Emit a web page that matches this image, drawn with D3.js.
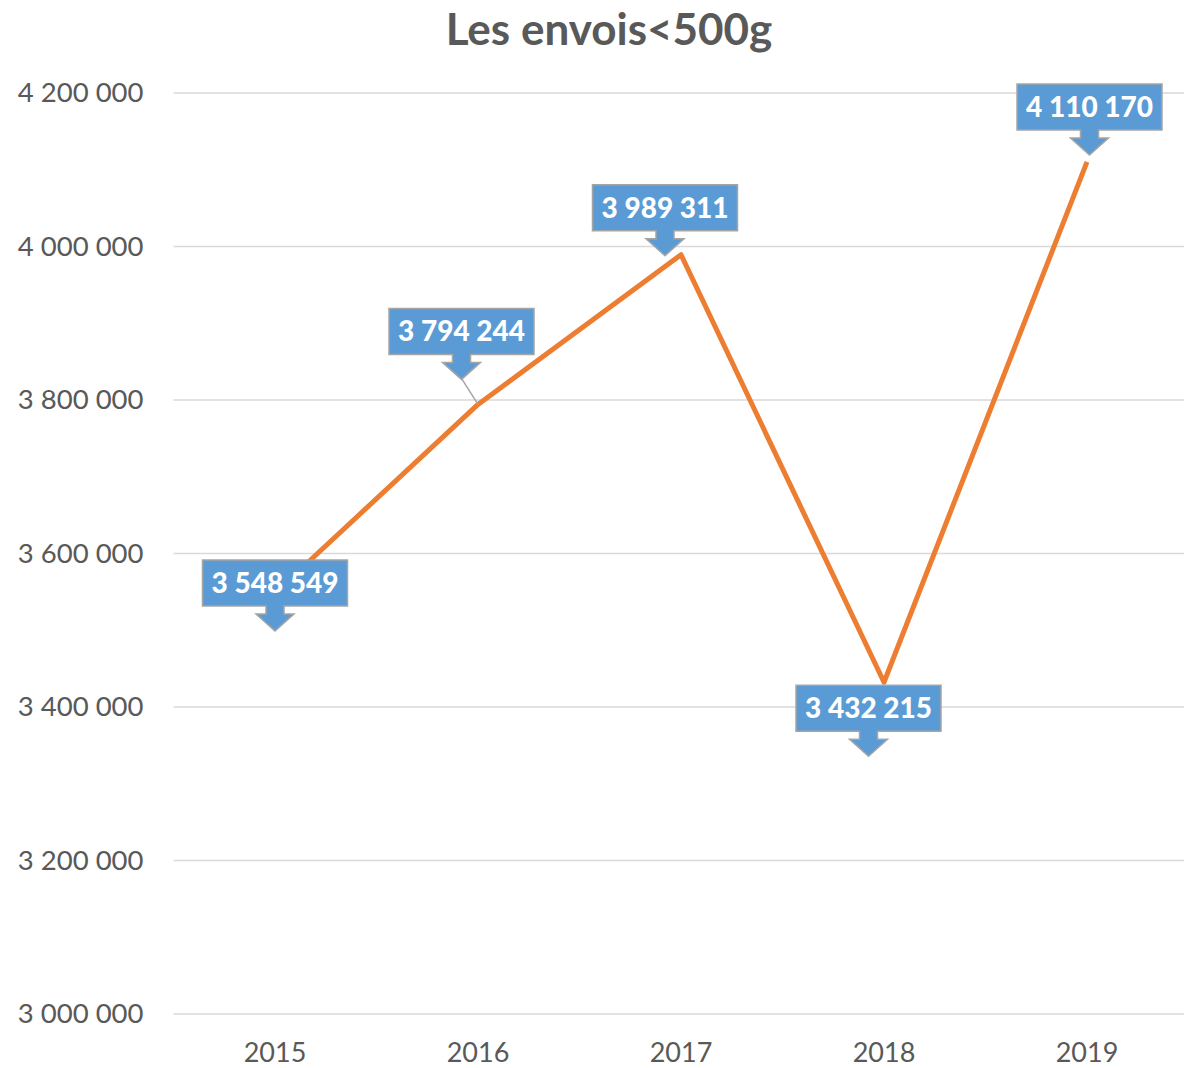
<!DOCTYPE html>
<html>
<head>
<meta charset="utf-8">
<script src="https://cdn.jsdelivr.net/npm/d3@7"></script>
<style>
  body { margin: 0; background: #fff; }
  svg { display: block; font-family: Lato, "Open Sans", sans-serif; }
</style>
</head>
<body>
<div id="chart"></div>
<script>
// DATA
const years = ["2015", "2016", "2017", "2018", "2019"];
const envois = [3548549, 3794244, 3989311, 3432215, 4110170];
const yTicks = [3000000, 3200000, 3400000, 3600000, 3800000, 4000000, 4200000];

// callout placement relative to each point: box centre shift and box top shift
const calloutShift = [
  { dx: 0, dy: -33 },
  { dx: -16.5, dy: -96 },
  { dx: -16, dy: -70 },
  { dx: -15.5, dy: 3 },
  { dx: 2.5, dy: -78 }
];

const width = 1184;
const height = 1068;
const margin = { top: 93, right: 0, bottom: 54, left: 173.5 };

// space as thousands separator
const fmt = (v) => d3.format(",")(v).replace(/,/g, " ");

const svg = d3.select("#chart")
  .append("svg")
  .attr("width", width)
  .attr("height", height);

const x = d3.scaleBand()
  .domain(years)
  .range([margin.left, 1188.5]);

const y = d3.scaleLinear()
  .domain([3000000, 4200000])
  .range([1014, margin.top]);

// TITLE
svg.append("text")
  .attr("x", 609)
  .attr("y", 45)
  .attr("text-anchor", "middle")
  .attr("fill", "#595959")
  .attr("font-size", 44)
  .attr("font-weight", "bold")
  .text("Les envois<500g");

// GRIDLINES
svg.append("g")
    .attr("stroke", "#d9d9d9")
    .attr("stroke-width", 1.5)
  .selectAll()
  .data(yTicks)
  .join("line")
    .attr("x1", margin.left)
    .attr("x2", width)
    .attr("y1", (d) => y(d))
    .attr("y2", (d) => y(d));

// Y AXIS LABELS
const yAxis = svg.append("g")
  .attr("transform", `translate(${margin.left},0)`)
  .call(d3.axisLeft(y).tickValues(yTicks).tickFormat(fmt).tickSize(0).tickPadding(30));
yAxis.select(".domain").remove();
yAxis.selectAll("text")
  .attr("fill", "#595959")
  .attr("font-size", 27.5)
  .attr("font-family", "Lato, sans-serif");

// X AXIS LABELS
const xAxis = svg.append("g")
  .attr("transform", "translate(0,1014)")
  .call(d3.axisBottom(x).tickSize(0).tickPadding(29));
xAxis.select(".domain").remove();
xAxis.selectAll("text")
  .attr("fill", "#595959")
  .attr("font-size", 27)
  .attr("font-family", "Lato, sans-serif");

// LINE
const points = years.map((yr, i) => ({ year: yr, value: envois[i], shift: calloutShift[i] }));
const cx = (d) => x(d.year) + x.bandwidth() / 2;

svg.append("path")
  .datum(points)
  .attr("fill", "none")
  .attr("stroke", "#ed7d31")
  .attr("stroke-width", 5)
  .attr("stroke-linejoin", "round")
  .attr("d", d3.line().x(cx).y((d) => y(d.value)));

// CALLOUTS
const boxH = 46;
const callouts = svg.append("g")
  .selectAll()
  .data(points)
  .join("g")
    .attr("transform", (d) => `translate(${cx(d) + d.shift.dx},${y(d.value) + d.shift.dy})`);

// leader line from arrow tip to point when they are apart
callouts.append("line")
  .attr("x1", 0)
  .attr("y1", boxH + 24)
  .attr("x2", (d) => -d.shift.dx)
  .attr("y2", (d) => -d.shift.dy)
  .attr("stroke", "#a5a5a5")
  .attr("stroke-width", 1.5)
  .attr("display", (d) => Math.abs(d.shift.dy + boxH + 24) > 10 && d.shift.dy + boxH + 24 < 0 ? null : "none");

callouts.append("text")
  .attr("x", 0)
  .attr("y", 33)
  .attr("text-anchor", "middle")
  .attr("fill", "#fff")
  .attr("font-size", 28)
  .attr("font-weight", 900)
  .text((d) => fmt(d.value));

callouts.each(function () {
  const g = d3.select(this);
  const w = g.select("text").node().getComputedTextLength() + 18;
  const hw = w / 2;
  const path = [
    [-hw, 0], [hw, 0], [hw, boxH], [9, boxH], [9, boxH + 8], [19, boxH + 8],
    [0, boxH + 25], [-19, boxH + 8], [-9, boxH + 8], [-9, boxH], [-hw, boxH]
  ];
  g.insert("path", "text")
    .attr("d", d3.line()(path) + "Z")
    .attr("fill", "#5b9bd5")
    .attr("stroke", "#a5a5a5")
    .attr("stroke-width", 1.5);
});
</script>
</body>
</html>
